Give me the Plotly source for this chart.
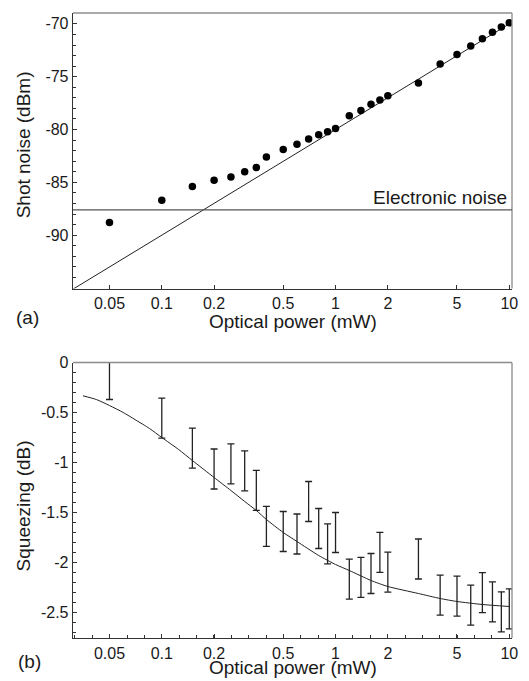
import numpy as np
import plotly.graph_objects as go

# ---------------- data ----------------
# Panel (a): shot noise vs optical power
power_a = [0.05, 0.1, 0.15, 0.2, 0.25, 0.3, 0.35, 0.4, 0.5, 0.6, 0.7, 0.8, 0.9, 1.0,
           1.2, 1.4, 1.6, 1.8, 2.0, 3.0, 4.0, 5.0, 6.0, 7.0, 8.0, 9.0, 10.0]
shot_noise = [-88.8, -86.7, -85.4, -84.8, -84.5, -84.0, -83.6, -82.6, -81.9, -81.4, -80.9,
              -80.5, -80.2, -79.9, -78.7, -78.2, -77.6, -77.2, -76.8, -75.6, -73.8, -72.9,
              -72.1, -71.4, -70.8, -70.3, -69.9]
shot_fit_x = [0.03, 10.4]
shot_fit_y = [-95.23, -69.83]
electronic_noise = -87.6

# Panel (b): squeezing vs optical power
power_b = [0.05, 0.1, 0.15, 0.2, 0.25, 0.3, 0.35, 0.4, 0.5, 0.6, 0.7, 0.8, 0.9, 1.0,
           1.2, 1.4, 1.6, 1.8, 2.0, 3.0, 4.0, 5.0, 6.0, 7.0, 8.0, 9.0, 10.0]
squeezing = [-0.17, -0.556, -0.857, -1.065, -1.014, -1.084, -1.279, -1.639, -1.690, -1.715,
             -1.390, -1.660, -1.813, -1.700, -2.166, -2.148, -2.110, -1.898, -2.097, -1.965,
             -2.326, -2.337, -2.426, -2.302, -2.393, -2.493, -2.464]
squeezing_err = [0.2, 0.2, 0.2, 0.2, 0.2, 0.2, 0.2, 0.2, 0.2, 0.2, 0.2, 0.2, 0.2, 0.2,
                 0.2, 0.2, 0.2, 0.2, 0.2, 0.2, 0.2, 0.2, 0.2, 0.2, 0.2, 0.2, 0.2]
theory_x = [0.0352, 0.042, 0.05, 0.06, 0.07, 0.085, 0.1, 0.125, 0.15, 0.2, 0.25, 0.3, 0.35,
            0.4, 0.5, 0.6, 0.8, 1.0, 1.2, 1.6, 2.0, 3.0, 4.0, 5.0, 7.0, 10.0]
theory_y = [-0.333, -0.37, -0.43, -0.50, -0.57, -0.66, -0.75, -0.87, -0.98, -1.15, -1.28,
            -1.39, -1.48, -1.57, -1.70, -1.79, -1.93, -2.02, -2.08, -2.18, -2.24, -2.31,
            -2.36, -2.39, -2.42, -2.44]

# tick labels
x_tickvals = [0.05, 0.1, 0.2, 0.5, 1, 2, 5, 10]
x_ticktext = ["0.05", "0.1", "0.2", "0.5", "1", "2", "5", "10"]
ya_tickvals = [-90, -85, -80, -75, -70]
ya_ticktext = ["-90", "-85", "-80", "-75", "-70"]
yb_tickvals = [-2.5, -2, -1.5, -1, -0.5, 0]
yb_ticktext = ["-2.5", "-2", "-1.5", "-1", "-0.5", "0"]

# ---------------- figure ----------------
FONT = "Liberation Sans, Arial, sans-serif"
TXT = "#1a1a1a"
AXC = "#333333"
FRAMEC = "#8c8c8c"

fig = go.Figure()

fig.add_trace(go.Scatter(x=shot_fit_x, y=shot_fit_y, mode="lines",
                         line=dict(color="#222222", width=1),
                         xaxis="x", yaxis="y", showlegend=False, hoverinfo="skip"))
fig.add_trace(go.Scatter(x=power_a, y=shot_noise, mode="markers",
                         marker=dict(color="black", size=7.5),
                         xaxis="x", yaxis="y", showlegend=False))

fig.add_trace(go.Scatter(x=theory_x, y=theory_y, mode="lines",
                         line=dict(color="#222222", width=1, shape="spline", smoothing=0.6),
                         xaxis="x2", yaxis="y2", showlegend=False, hoverinfo="skip"))
fig.add_trace(go.Scatter(x=power_b, y=squeezing, mode="markers",
                         marker=dict(color="rgba(0,0,0,0)", size=1),
                         error_y=dict(type="data", array=squeezing_err, visible=True,
                                      color="#222222", thickness=1.3, width=3.5),
                         xaxis="x2", yaxis="y2", showlegend=False))

minor_x = [10 ** (k / 10) for k in range(-15, 11)]

common_x = dict(type="log", range=[-1.511, 1.0156], showline=True, linecolor=AXC,
                linewidth=1.3, ticks="inside", ticklen=4, tickcolor=AXC, tickwidth=1,
                tickmode="array", tickvals=x_tickvals, ticktext=x_ticktext,
                showgrid=False, zeroline=False,
                tickfont=dict(family=FONT, size=16, color=TXT))
common_y = dict(showline=True, linecolor=AXC, linewidth=1.3, ticks="inside", ticklen=4,
                tickcolor=AXC, tickwidth=1, tickmode="array", showgrid=False, zeroline=False,
                tickfont=dict(family=FONT, size=16, color=TXT))

fig.update_layout(
    width=529, height=681,
    margin=dict(l=73, r=17, t=5, b=43),
    paper_bgcolor="white", plot_bgcolor="white",
    xaxis=dict(**common_x, anchor="y", domain=[0, 1]),
    yaxis=dict(**common_y, anchor="x", domain=[0.5592, 1], range=[-95.05, -68.97],
               tickvals=ya_tickvals, ticktext=ya_ticktext,
               minor=dict(dtick=1, tick0=-95, ticks="inside", ticklen=3,
                          tickcolor=AXC, showgrid=False)),
    xaxis2=dict(**common_x, anchor="y2", domain=[0, 1],
                minor=dict(tickmode="array", tickvals=minor_x, ticks="inside",
                           ticklen=3, tickcolor=AXC, showgrid=False)),
    yaxis2=dict(**common_y, anchor="x2", domain=[0, 0.4408], range=[-2.755, 0],
                tickvals=yb_tickvals, ticktext=yb_ticktext,
                minor=dict(dtick=0.1, tick0=0, ticks="inside", ticklen=3,
                           tickcolor=AXC, showgrid=False)),
)

# grey top/right frame lines
for xr, yr in (("x", "y"), ("x2", "y2")):
    fig.add_shape(type="line", xref=f"{xr} domain", yref=f"{yr} domain",
                  x0=0, x1=1, y0=1, y1=1, line=dict(color=FRAMEC, width=1.3))
    fig.add_shape(type="line", xref=f"{xr} domain", yref=f"{yr} domain",
                  x0=1, x1=1, y0=0, y1=1, line=dict(color=FRAMEC, width=1.3))

# electronic noise level
fig.add_shape(type="line", xref="x domain", yref="y", x0=0, x1=1,
              y0=electronic_noise, y1=electronic_noise,
              line=dict(color="#555555", width=1.2))
fig.add_annotation(xref="x domain", yref="y", x=1, y=electronic_noise,
                   xanchor="right", yanchor="bottom", xshift=-3, yshift=0,
                   text="Electronic noise", showarrow=False,
                   font=dict(family=FONT, size=19, color=TXT))

title_font = dict(family=FONT, size=19, color=TXT)
annots = [
    dict(x=0.5, y=0.506, text="Optical power (mW)"),
    dict(x=0.5, y=-0.0474, text="Optical power (mW)"),
    dict(x=-0.1036, y=0.5134, text="(a)"),
    dict(x=-0.0991, y=-0.0379, text="(b)"),
    dict(x=-0.1123, y=0.7894, text="Shot noise (dBm)", textangle=-90),
    dict(x=-0.1123, y=0.2117, text="Squeezing (dB)", textangle=-90),
]
for a in annots:
    fig.add_annotation(xref="paper", yref="paper", xanchor="center", yanchor="middle",
                       showarrow=False, font=title_font, **a)

fig.write_html("out.html",
               config={"displayModeBar": False, "staticPlot": True},
               post_script="document.body.style.margin='0px';"
                           "document.body.style.padding='0px';"
                           "document.documentElement.style.overflow='hidden';"
                           "var d=document.getElementById('{plot_id}');"
                           "d.style.position='absolute';d.style.left='0px';d.style.top='0px';")
